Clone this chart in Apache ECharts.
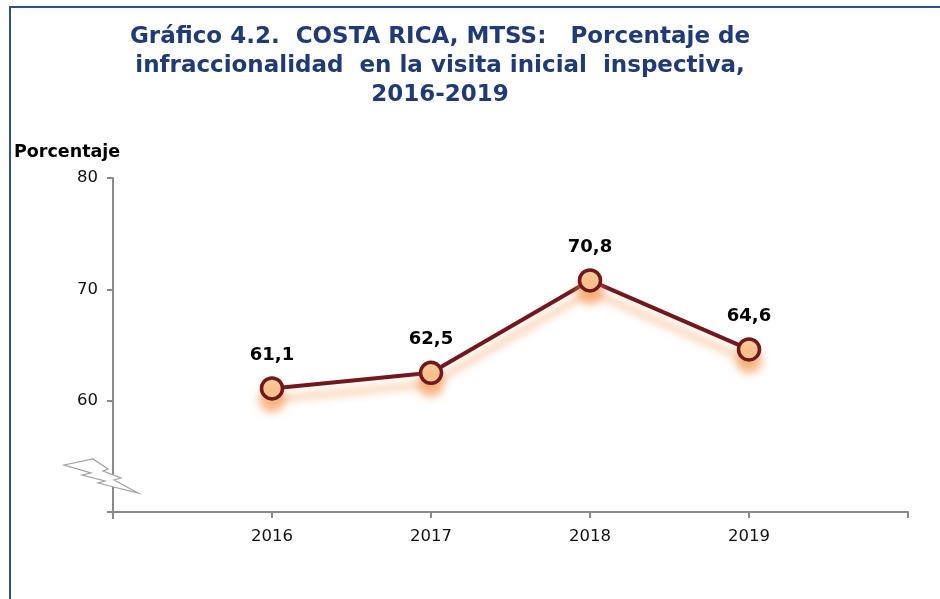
<!DOCTYPE html>
<html><head><meta charset="utf-8">
<script src="https://cdn.jsdelivr.net/npm/echarts@6/dist/echarts.min.js"></script>
<style>html,body{margin:0;padding:0;background:#fff}#c{width:940px;height:599px}</style>
</head><body><div id="c"></div>
<script>
const years = [2016, 2017, 2018, 2019];
const values = [61.1, 62.5, 70.8, 64.6];
const yTicks = [50, 60, 70, 80];
const titleText = 'Gráfico 4.2.  COSTA RICA, MTSS:   Porcentaje de\ninfraccionalidad  en la visita inicial  inspectiva,\n2016-2019';
const yName = 'Porcentaje';

const chart = echarts.init(document.getElementById('c'), null, {renderer: 'canvas'});
const axisGray = '#8a8a8a';
chart.setOption({
  animation: false,
  backgroundColor: '#fff',
  title: {
    text: titleText,
    left: 435, top: 18, textAlign: 'center',
    textStyle: {fontFamily: 'DejaVu Sans', fontWeight: 'bold', fontSize: 23, color: '#1f3a78', lineHeight: 29, align: 'center'}
  },
  grid: {left: 113, right: 32, top: 178, bottom: 87, containLabel: false},
  xAxis: {
    type: 'value', min: 2015, max: 2020, interval: 1,
    axisLine: {show: true, lineStyle: {color: axisGray, width: 2}},
    axisTick: {show: true, length: 6, lineStyle: {color: axisGray, width: 2}},
    splitLine: {show: false},
    axisLabel: {
      margin: 16, color: '#111', fontFamily: 'DejaVu Sans', fontSize: 16.5,
      formatter: v => years.indexOf(v) >= 0 ? String(v) : ''
    }
  },
  yAxis: {
    type: 'value', min: yTicks[0], max: yTicks[yTicks.length - 1], interval: 10,
    axisLine: {show: true, onZero: false, lineStyle: {color: axisGray, width: 2}},
    axisTick: {show: true, length: 6, lineStyle: {color: axisGray, width: 2}},
    splitLine: {show: false},
    axisLabel: {
      margin: 15, color: '#111', fontFamily: 'DejaVu Sans', fontSize: 16.5,
      formatter: v => v === yTicks[0] ? '' : String(v)
    }
  },
  graphic: [
    {type: 'rect', shape: {x: 10, y: 7, width: 960, height: 620}, style: {fill: 'none', stroke: '#2f4d9a', lineWidth: 2}, silent: true},
    {type: 'text', left: 14, top: 143, style: {text: yName, fontFamily: 'DejaVu Sans', fontWeight: 'bold', fontSize: 17.5, fill: '#000'}},
    {type: 'line', shape: {x1: 113, y1: 512, x2: 113, y2: 519}, style: {stroke: axisGray, lineWidth: 2}},
    {type: 'polygon', shape: {points: [[64, 465], [93, 459], [108, 469], [103, 471], [121, 478], [114, 480], [138, 493], [98, 483], [105, 481], [82, 475], [91, 473]]},
      style: {fill: '#fff', stroke: '#a0a0a0', lineWidth: 1.2}, z: 10}
  ],
  series: [{
    type: 'line',
    data: years.map((y, i) => [y, values[i]]),
    symbol: 'circle', symbolSize: 21,
    lineStyle: {color: '#74171c', width: 4, shadowColor: 'rgba(245,150,80,0.7)', shadowBlur: 9, shadowOffsetY: 11},
    itemStyle: {color: '#f9cd9e', borderColor: '#74171c', borderWidth: 3.5, shadowColor: 'rgba(245,150,80,0.7)', shadowBlur: 9, shadowOffsetY: 11},
    label: {
      show: true, position: 'top', distance: 12,
      fontFamily: 'DejaVu Sans', fontWeight: 'bold', fontSize: 18, color: '#000',
      formatter: p => p.value[1].toFixed(1).replace('.', ',')
    }
  }]
});
</script></body></html>
